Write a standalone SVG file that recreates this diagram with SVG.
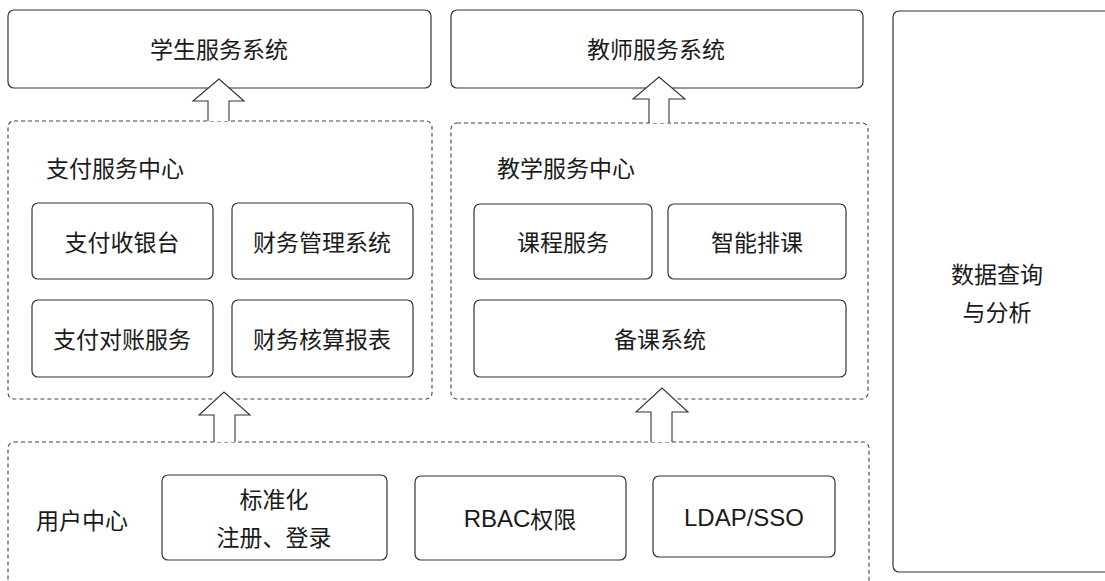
<svg xmlns="http://www.w3.org/2000/svg" width="1105" height="581" viewBox="0 0 1105 581">
<style>
.box{fill:#fff;stroke:#333;stroke-width:1.2}
.dash{fill:none;stroke:#444;stroke-width:1.1;stroke-dasharray:4 3}
.arr{fill:#fff;stroke:#333;stroke-width:1.1}
text{font-family:"PingFang SC","Noto Sans CJK SC","Liberation Sans",sans-serif;font-size:23px;fill:#1a1a1a;text-anchor:middle;dominant-baseline:central}
.l{text-anchor:start}
.en{font-family:"Liberation Sans","Noto Sans CJK SC",sans-serif;font-size:24px}
</style>
<rect width="1105" height="581" fill="#fff"/>
<g id="student-system"><rect class="box" x="8" y="10" width="423" height="78" rx="6"/><text x="219" y="48">学生服务系统</text></g>
<g id="teacher-system"><rect class="box" x="451" y="10" width="412" height="78" rx="6"/><text x="656" y="48">教师服务系统</text></g>
<g id="data-analysis"><rect class="box" x="893" y="11" width="220" height="561" rx="6"/><text x="997" y="273">数据查询</text><text x="997" y="311">与分析</text></g>
<g id="pay-center"><rect class="dash" x="8" y="121" width="424" height="278" rx="6"/><text class="l" x="46" y="167">支付服务中心</text></g>
<g id="pay-cashier"><rect class="box" x="32" y="203" width="181" height="76" rx="6"/><text x="122" y="241">支付收银台</text></g>
<g id="finance-mgmt"><rect class="box" x="232" y="203" width="181" height="76" rx="6"/><text x="322" y="241">财务管理系统</text></g>
<g id="pay-recon"><rect class="box" x="32" y="300" width="181" height="77" rx="6"/><text x="122" y="338">支付对账服务</text></g>
<g id="finance-report"><rect class="box" x="232" y="300" width="181" height="77" rx="6"/><text x="322" y="338">财务核算报表</text></g>
<g id="teach-center"><rect class="dash" x="451" y="123" width="417" height="276" rx="6"/><text class="l" x="497" y="167">教学服务中心</text></g>
<g id="course-service"><rect class="box" x="474" y="204" width="178" height="75" rx="6"/><text x="563" y="241">课程服务</text></g>
<g id="smart-schedule"><rect class="box" x="668" y="204" width="178" height="75" rx="6"/><text x="757" y="241">智能排课</text></g>
<g id="lesson-prep"><rect class="box" x="474" y="300" width="372" height="77" rx="6"/><text x="660" y="338">备课系统</text></g>
<g id="user-center"><rect class="dash" x="8" y="442" width="861" height="160" rx="6"/><text class="l" x="36" y="519">用户中心</text></g>
<g id="standard-login"><rect class="box" x="162" y="475" width="225" height="85" rx="6"/><text x="274" y="498">标准化</text><text x="274" y="536">注册、登录</text></g>
<g id="rbac"><rect class="box" x="415" y="476" width="211" height="84" rx="6"/><text x="520" y="518"><tspan class="en">RBAC</tspan>权限</text></g>
<g id="ldap"><rect class="box" x="653" y="476" width="182" height="81" rx="6"/><text class="en" x="744" y="517">LDAP/SSO</text></g>
<g id="connectors">
<path class="arr" d="M208,121 V101 H193 L219,79 L244,101 H229 V121"/>
<path class="arr" d="M649,123 V99 H633 L659,77 L685,99 H669 V123"/>
<path class="arr" d="M214,442 V415 H199 L224,392 L250,415 H235 V442"/>
<path class="arr" d="M651,442 V412 H636 L662,388 L688,412 H672 V442"/>
</g>
</svg>
